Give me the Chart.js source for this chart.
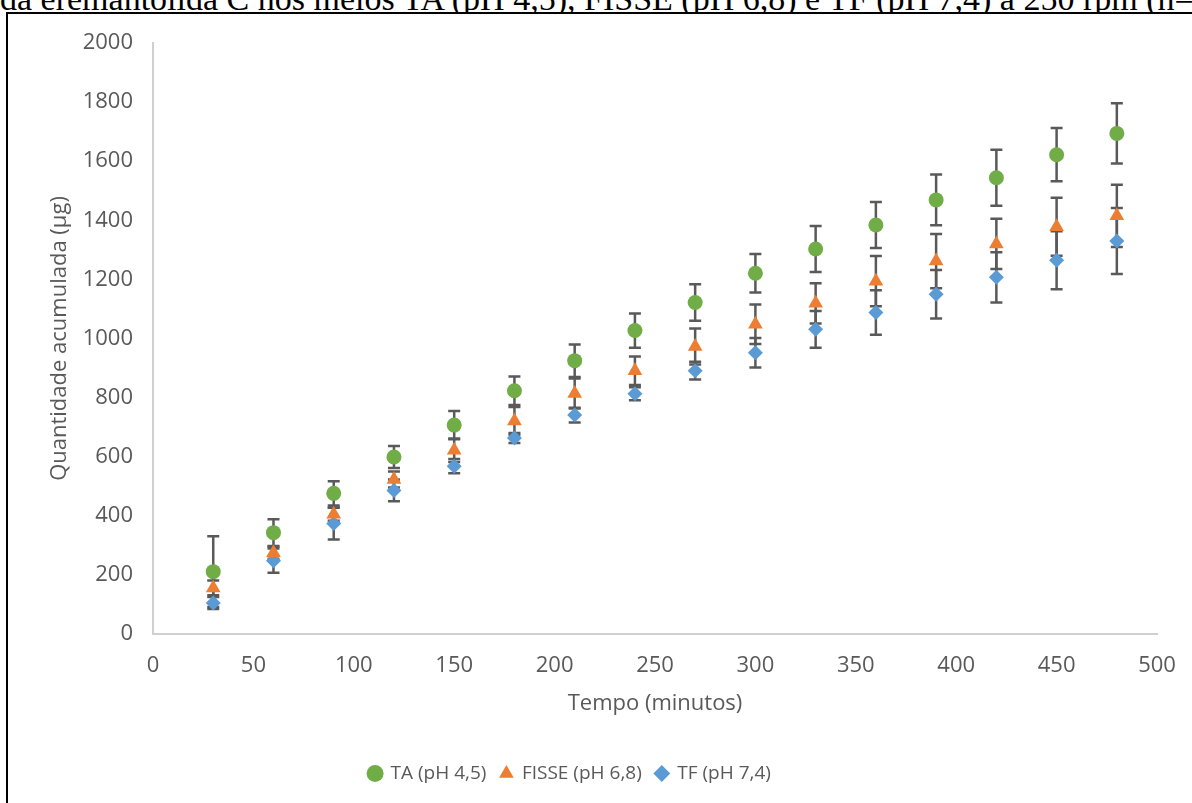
<!DOCTYPE html>
<html>
<head>
<meta charset="utf-8">
<script src="https://cdn.jsdelivr.net/npm/chart.js@4.4.1/dist/chart.umd.min.js"></script>
<style>
    html, body { margin: 0; padding: 0; background: #fff; width: 1192px; height: 803px; overflow: hidden; position: relative; }
    /* legenda do texto acima do gráfico (cortada no topo) */
    #legenda-texto {
        position: absolute; left: 0; top: -18px; white-space: nowrap;
        font-family: 'Liberation Serif', 'Times New Roman', serif; font-size: 34px; line-height: 34px; color: #000;
    }
    #moldura {
        position: absolute; left: 6px; top: 12px; width: 1300px; height: 900px;
        border-left: 2px solid #000; border-top: 2px solid #000; background: #fff;
    }
    #grafico { position: absolute; left: -60px; top: 14px; }
</style>
</head>
<body>
<div id="legenda-texto">da eremantolida C nos meios TA (pH 4,5), FISSE (pH 6,8) e TF (pH 7,4) a 250 rpm (n=3).</div>
<div id="moldura"></div>
<canvas id="grafico" width="1260" height="789"></canvas>
<script>
// Dados
const tempo = [30, 60, 90, 120, 150, 180, 210, 240, 270, 300, 330, 360, 390, 420, 450, 480];

const ta = [211, 343, 476, 599, 707, 823, 925, 1027, 1122, 1221, 1303, 1384, 1469, 1544, 1622, 1694];
const taErro = [120, 45, 41, 37, 48, 48, 55, 58, 62, 65, 78, 78, 86, 95, 90, 102];

const fisse = [156, 275, 405, 523, 622, 721, 814, 891, 973, 1048, 1119, 1194, 1262, 1320, 1378, 1415];
const fisseErro = [25, 20, 22, 27, 40, 47, 51, 48, 61, 67, 68, 85, 92, 85, 98, 105];

const tf = [105, 248, 374, 486, 568, 663, 741, 813, 891, 952, 1031, 1088, 1150, 1207, 1265, 1330];
const tfErro = [20, 41, 54, 37, 24, 17, 25, 22, 30, 50, 62, 75, 82, 85, 98, 112];

const rotulos = ['TA (pH 4,5)', 'FISSE (pH 6,8)', 'TF (pH 7,4)'];
const cores = ['#70AD47', '#ED7D31', '#5B9BD5'];

const fonte = "'Open Sans', 'Noto Sans', sans-serif";
const corTexto = '#595959';
const corEixo = '#d0d0d0';

function pontos(valores, erros) {
    return tempo.map((t, i) => ({ x: t, y: valores[i], erro: erros[i] }));
}

/**
 * Desenha as barras de erro (desvio padrão) de cada série
 */
const barrasErro = {
    id: 'barrasErro',
    beforeDatasetsDraw(chart) {
        const ctx = chart.ctx;
        const sx = chart.scales.x;
        const sy = chart.scales.y;
        ctx.save();
        ctx.strokeStyle = '#595959';
        ctx.lineWidth = 2.5;
        chart.data.datasets.forEach(ds => {
            ds.data.forEach(p => {
                const x = sx.getPixelForValue(p.x);
                const yTop = sy.getPixelForValue(p.y + p.erro);
                const yBot = sy.getPixelForValue(p.y - p.erro);
                ctx.beginPath();
                ctx.moveTo(x, yTop);
                ctx.lineTo(x, yBot);
                ctx.moveTo(x - 6, yTop);
                ctx.lineTo(x + 6, yTop);
                ctx.moveTo(x - 6, yBot);
                ctx.lineTo(x + 6, yBot);
                ctx.stroke();
            });
        });
        ctx.restore();
    }
};

new Chart(document.getElementById('grafico'), {
    type: 'scatter',
    data: {
        datasets: [
            { label: rotulos[0], data: pontos(ta, taErro), pointStyle: 'circle', pointRadius: 7.5,
              backgroundColor: cores[0], borderColor: cores[0], borderWidth: 0 },
            { label: rotulos[1], data: pontos(fisse, fisseErro), pointStyle: 'triangle', pointRadius: 8.5,
              backgroundColor: cores[1], borderColor: cores[1], borderWidth: 0 },
            { label: rotulos[2], data: pontos(tf, tfErro), pointStyle: 'rectRot', pointRadius: 7.5,
              backgroundColor: cores[2], borderColor: cores[2], borderWidth: 0 }
        ]
    },
    options: {
        responsive: false,
        animation: false,
        devicePixelRatio: 1,
        layout: { padding: { top: 29, right: 43, bottom: 10, left: 43 } },
        plugins: {
            tooltip: { enabled: false },
            legend: {
                position: 'bottom',
                labels: {
                    usePointStyle: true,
                    boxWidth: 12,
                    boxHeight: 12,
                    padding: 14,
                    color: corTexto,
                    font: { family: fonte, size: 19 }
                }
            }
        },
        scales: {
            x: {
                type: 'linear',
                min: 0,
                max: 500,
                grid: { display: false, drawTicks: false },
                border: { display: true, color: corEixo, width: 2 },
                ticks: { stepSize: 50, padding: 19, color: corTexto, font: { family: fonte, size: 22 },
                         callback: v => String(v) },
                title: {
                    display: true,
                    text: 'Tempo (minutos)',
                    color: corTexto,
                    font: { family: fonte, size: 22 },
                    padding: { top: 0, bottom: 33 }
                },
                afterFit(scale) {
                    scale.height = 116;
                    scale.paddingLeft = 0;
                    scale.paddingRight = 0;
                }
            },
            y: {
                min: 0,
                max: 2000,
                grid: { display: false, drawTicks: false },
                border: { display: true, color: corEixo, width: 2 },
                ticks: { stepSize: 200, padding: 20, color: corTexto, font: { family: fonte, size: 22 },
                         callback: v => String(v) },
                title: {
                    display: true,
                    text: 'Quantidade acumulada (µg)',
                    color: corTexto,
                    font: { family: fonte, size: 22 },
                    padding: { top: 64, bottom: 0 }
                },
                afterFit(scale) {
                    scale.width = 170;
                    scale.paddingTop = 0;
                    scale.paddingBottom = 0;
                }
            }
        }
    },
    plugins: [barrasErro]
});
</script>
</body>
</html>
